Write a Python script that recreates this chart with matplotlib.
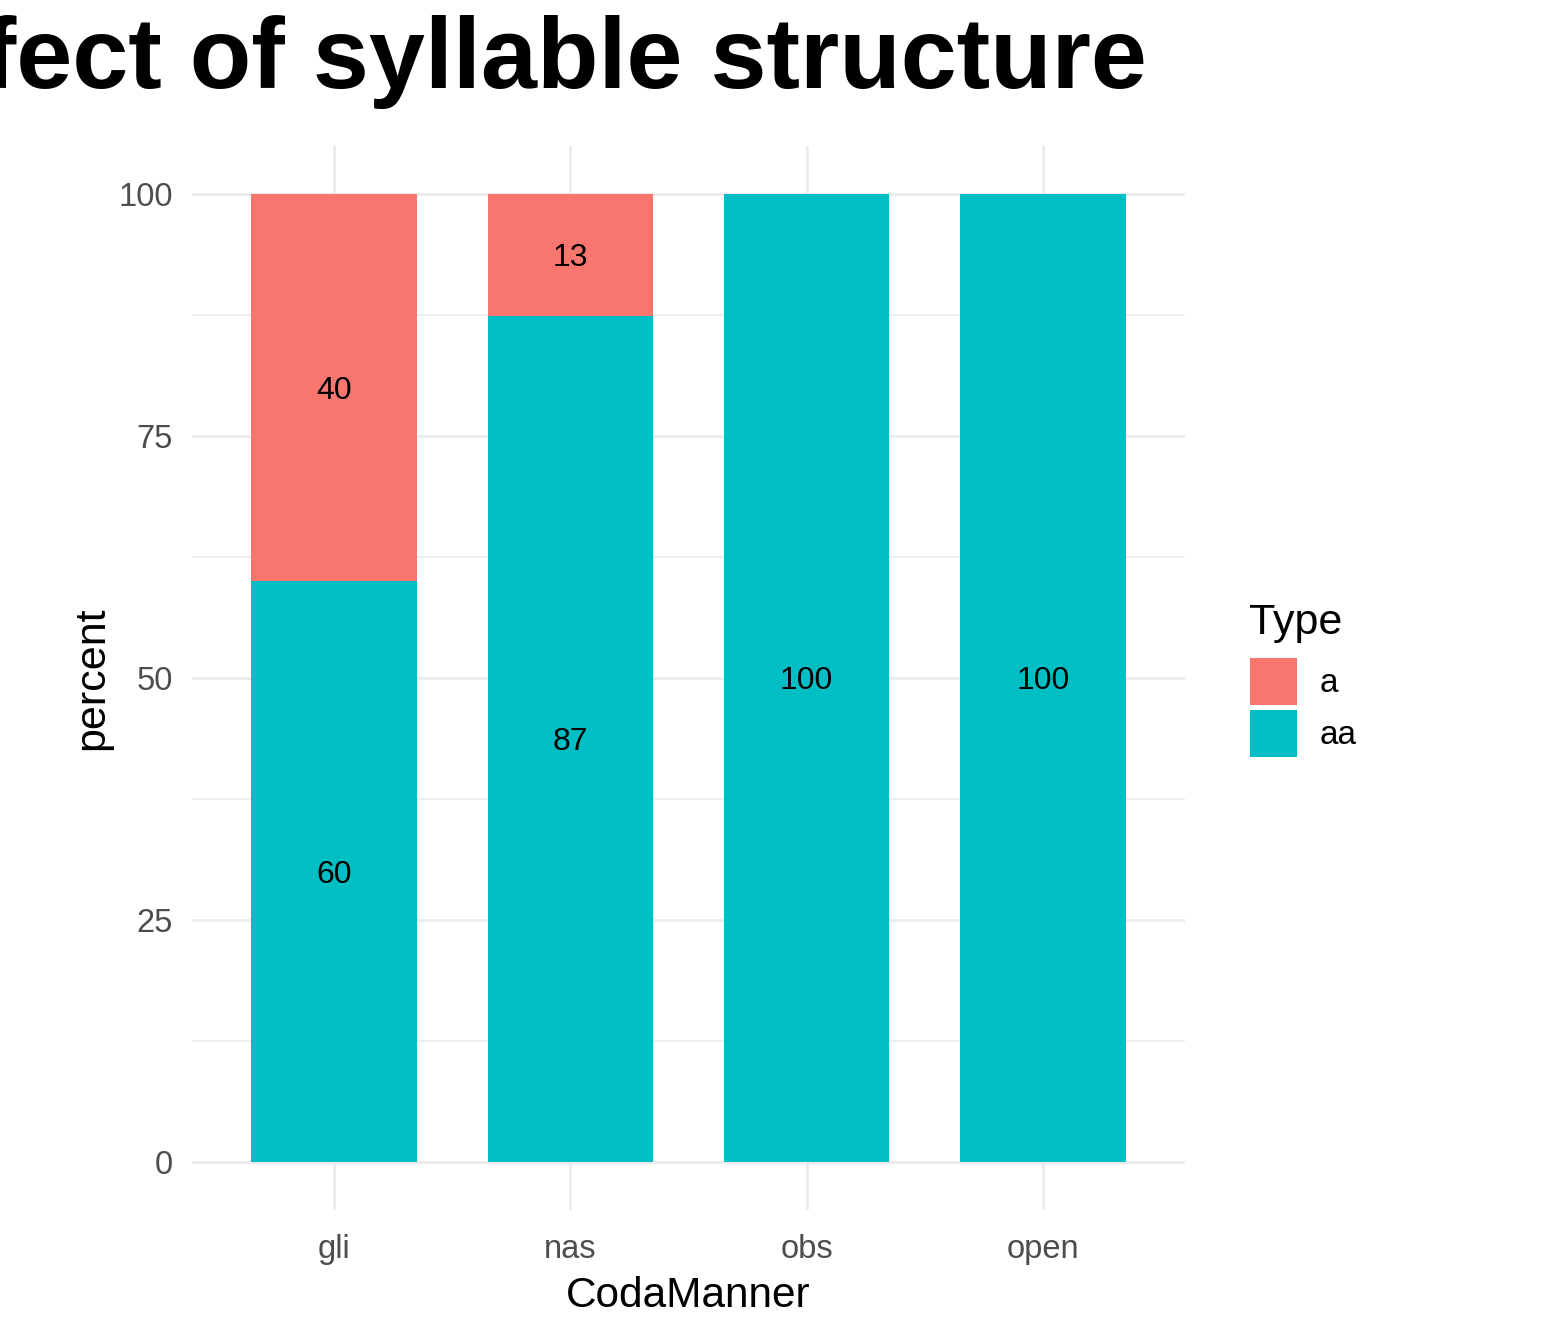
import matplotlib.pyplot as plt
from matplotlib.patches import Patch
import numpy as np

plt.rcParams['font.family'] = ['Liberation Sans', 'DejaVu Sans']

# data
categories = ["gli", "nas", "obs", "open"]
pct_a = [40.0, 12.6, 0.0, 0.0]
pct_aa = [60.0, 87.4, 100.0, 100.0]
types = ["a", "aa"]
colors = {"a": "#F8766D", "aa": "#00BFC4"}

W, H = 1541, 1327
fig = plt.figure(figsize=(W / 100, H / 100), dpi=100)
ax = fig.add_axes([192 / W, (H - 1210) / H, (1185 - 192) / W, (1210 - 145.6) / H])

x = np.arange(1, len(categories) + 1)
bar_w = 0.7
ax.bar(x, pct_aa, width=bar_w, color=colors["aa"], zorder=2)
ax.bar(x, pct_a, width=bar_w, bottom=pct_aa, color=colors["a"], zorder=2)

# bar labels at segment middles
for xi, a, aa in zip(x, pct_a, pct_aa):
    if aa > 0:
        ax.text(xi, aa / 2, f"{aa:.0f}", ha="center", va="center_baseline", fontsize=23, color="black", zorder=3)
    if a > 0:
        ax.text(xi, aa + a / 2, f"{a:.0f}", ha="center", va="center_baseline", fontsize=23, color="black", zorder=3)

ax.set_xlim(0.4, 4.6)
ax.set_ylim(-5, 105)
ax.set_xticks(x)
ax.set_xticklabels(categories)
ax.set_yticks([0, 25, 50, 75, 100])
ax.set_yticks([12.5, 37.5, 62.5, 87.5], minor=True)

ax.grid(True, which="major", color="#EBEBEB", linewidth=2.0, zorder=0)
ax.grid(True, which="minor", axis="y", color="#EBEBEB", linewidth=1.2, zorder=0)
ax.set_axisbelow(True)
for s in ax.spines.values():
    s.set_visible(False)

ax.tick_params(axis="both", which="both", length=0, labelsize=23.5, labelcolor="#4D4D4D")
ax.tick_params(axis="x", pad=17)
ax.tick_params(axis="y", pad=14)

ax.set_xlabel("CodaManner", fontsize=30.5, labelpad=8)
ax.set_ylabel("percent", fontsize=31, labelpad=4)

fig.text(1147 / W, (H - 88) / H, "Effect of syllable structure", ha="right", va="baseline",
         fontsize=72.5, fontweight="bold")

# legend: title drawn separately so the gap to the keys matches
fig.text(1249 / W, (H - 634) / H, "Type", ha="left", va="baseline", fontsize=31)
handles = [Patch(facecolor=colors[t], edgecolor="none") for t in types]
fig.legend(handles, types, loc="upper left", bbox_to_anchor=(1250 / W, (H - 658) / H),
           frameon=False, fontsize=24, handlelength=1.41, handleheight=1.79,
           handletextpad=0.69, labelspacing=0.15, borderpad=0, borderaxespad=0)

fig.savefig("out.png", dpi=100)
